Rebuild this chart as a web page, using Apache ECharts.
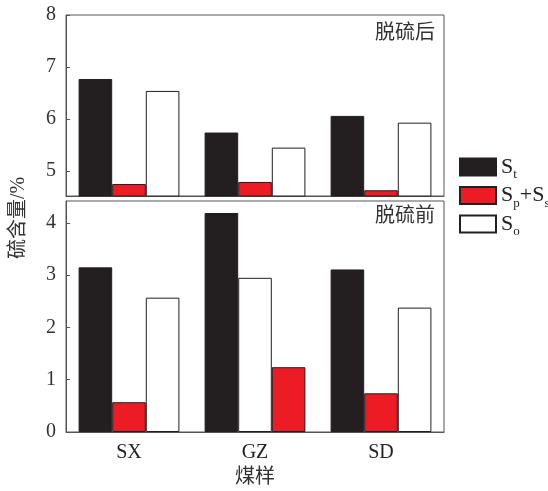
<!DOCTYPE html>
<html>
<head>
<meta charset="utf-8">
<script src="https://cdn.jsdelivr.net/npm/echarts@6/dist/echarts.min.js"></script>
<style>
html,body{margin:0;padding:0;background:#fff;}
#chart{width:548px;height:491px;}
</style>
</head>
<body>
<div id="chart"></div>
<script>
var categories = ['SX', 'GZ', 'SD'];
// 脱硫后 (top panel)
var afterSt = [6.77, 5.74, 6.06];
var afterSpSs = [4.75, 4.79, 4.63];
var afterSo = [6.54, 5.45, 5.93];
// 脱硫前 (bottom panel); GZ is drawn black, white, red
var beforeSt = [3.15, 4.19, 3.11];
var beforeSpSs = [0.57, 1.24, 0.74];
var beforeSo = [2.57, 2.95, 2.38];
var topTicks = [5, 6, 7, 8];
var bottomTicks = [0, 1, 2, 3, 4];

var BLACK = '#231f20', RED = '#ed1c24', WHITE = '#ffffff', LINE = '#555';
var FONT = 'Liberation Serif, Noto Sans CJK SC, serif';

var chart = echarts.init(document.getElementById('chart'));

function valAxis(grid, min, max, ticks) {
    return {
        type: 'value', gridIndex: grid, min: min, max: max,
        axisLine: {show: true, lineStyle: {color: LINE}},
        axisTick: {show: true, inside: true, length: 4, customValues: ticks, lineStyle: {color: LINE}},
        axisLabel: {customValues: ticks, color: '#333', fontSize: 20, fontFamily: FONT, margin: 10},
        splitLine: {show: false}
    };
}
function catAxis(grid, showLabel) {
    return {
        type: 'category', gridIndex: grid, data: categories,
        axisLine: {show: true, lineStyle: {color: LINE}},
        axisTick: {show: false},
        axisLabel: {show: showLabel, color: '#222', fontSize: 20, fontFamily: FONT, margin: 11}
    };
}
function bar(name, grid, values, color) {
    return {
        name: name, type: 'bar', xAxisIndex: grid, yAxisIndex: grid,
        barGap: 0, barCategoryGap: '20%',
        itemStyle: {color: color, borderColor: BLACK, borderWidth: 1},
        data: values
    };
}

// swap the colour of the middle/last bar for GZ in the bottom panel
var midBottom = beforeSpSs.map(function (v, i) {
    return i === 1 ? {value: beforeSo[i], itemStyle: {color: WHITE}} : v;
});
var lastBottom = beforeSo.map(function (v, i) {
    return i === 1 ? {value: beforeSpSs[i], itemStyle: {color: RED}} : v;
});

var legendRich = {
    m: {fontSize: 22, fontFamily: FONT, color: '#222'},
    s: {fontSize: 13, fontFamily: FONT, color: '#222', padding: [16, 0, 0, 0]}
};

chart.setOption({
    animation: false,
    grid: [
        {left: 66, top: 15, width: 378, height: 181, show: true, borderColor: LINE, borderWidth: 1},
        {left: 66, top: 201, width: 378, height: 231, show: true, borderColor: LINE, borderWidth: 1}
    ],
    xAxis: [catAxis(0, false), catAxis(1, true)],
    yAxis: [valAxis(0, 4.52, 8, topTicks), valAxis(1, 0, 4.42, bottomTicks)],
    legend: {
        orient: 'vertical', left: 459, top: 156, padding: 0,
        itemWidth: 36, itemHeight: 17, itemGap: 3,
        icon: 'rect',
        data: ['St', 'Sp+Ss', 'So'],
        formatter: function (name) {
            if (name === 'St') return '{m|S}{s|t}';
            if (name === 'So') return '{m|S}{s|o}';
            return '{m|S}{s|p}{m|+S}{s|s}';
        },
        textStyle: {rich: legendRich}
    },
    graphic: [
        {type: 'text', left: 375, top: 24, style: {text: '脱硫后', font: '20px ' + FONT, fill: '#333'}},
        {type: 'text', left: 375, top: 207, style: {text: '脱硫前', font: '20px ' + FONT, fill: '#333'}},
        {type: 'text', x: 19, y: 218, rotation: Math.PI / 2,
         style: {text: '硫含量/%', font: '20px ' + FONT, fill: '#333', align: 'center', verticalAlign: 'middle'}},
        {type: 'text', x: 255, y: 478, style: {text: '煤样', font: '20px ' + FONT, fill: '#333', align: 'center', verticalAlign: 'middle'}}
    ],
    series: [
        bar('St', 0, afterSt, BLACK),
        bar('Sp+Ss', 0, afterSpSs, RED),
        bar('So', 0, afterSo, WHITE),
        bar('St', 1, beforeSt, BLACK),
        bar('Sp+Ss', 1, midBottom, RED),
        bar('So', 1, lastBottom, WHITE)
    ]
});
</script>
</body>
</html>
